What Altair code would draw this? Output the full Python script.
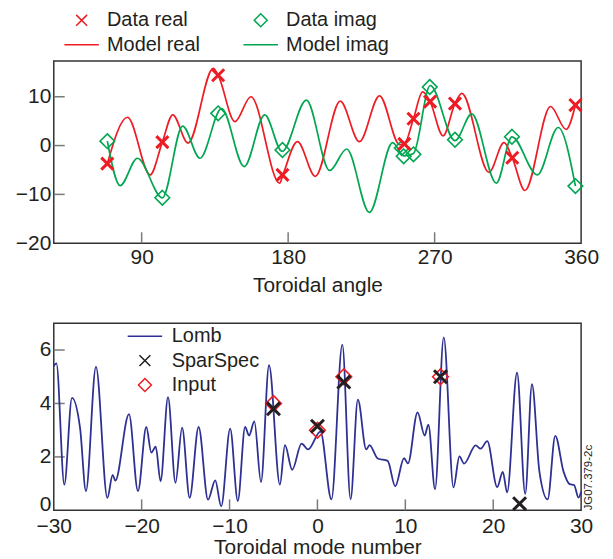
import altair as alt
import pandas as pd

# ---------------- top panel data ----------------
data_real_angle = [68.9, 102.7, 137.0, 176.5, 251.4, 257.0, 267.2, 282.5, 317.7, 356.5]
data_real_value = [-3.7, 0.7, 14.4, -6.0, 0.35, 5.5, 9.0, 8.6, -2.5, 8.3]
data_imag_angle = [68.9, 102.7, 137.0, 176.5, 249.8, 251.0, 257.0, 267.0, 282.5, 317.5, 356.5]
data_imag_value = [0.9, -10.7, 6.6, -0.9, -0.5, -2.2, -1.8, 12.0, 1.2, 1.8, -8.3]

model_real_angle = [68.9, 81.3, 95.2, 102.7, 109.1, 118.5, 134.0, 137.0, 147.3, 157.1, 174.8, 176.8,
                    185.7, 196.7, 212.0, 223.8, 236.1, 248.5, 251.4, 257.0, 262.6, 267.2, 275.2,
                    282.5, 286.7, 303.4, 312.6, 317.7, 325.5, 341.2, 350.8, 356.5]
model_real_value = [-3.7, 5.8, -6.0, 0.7, 6.3, 0.5, 15.8, 14.4, 4.9, 10.0, -7.7, -6.0,
                    0.8, -6.3, 9.1, 0.8, 10.2, 0.2, 0.35, 5.5, 11.0, 9.0, 2.0,
                    8.6, 10.7, -5.5, 0.6, -2.5, -9.2, 8.0, 3.3, 8.3]
model_imag_angle = [68.9, 76.8, 87.4, 102.7, 115.2, 125.8, 139.1, 153.0, 165.6, 176.3, 191.2,
                    205.5, 216.0, 229.9, 244.2, 251.0, 257.0, 267.3, 282.5, 292.8, 307.9, 317.5,
                    333.1, 345.9, 356.5]
model_imag_value = [0.9, -8.2, -2.6, -10.7, 4.0, -2.6, 7.6, -4.3, 6.3, -1.2, 9.3,
                    -5.1, -0.7, -13.7, 0.6, -2.1, -1.6, 12.3, 1.0, 6.5, -7.7, 1.8,
                    -6.0, 3.7, -8.3]

# ---------------- bottom panel data ----------------
lomb_n = [-30.0, -29.7, -28.8, -27.93, -27.0, -26.34, -25.2, -23.9, -23.3, -23.0, -21.44, -20.42,
          -19.47, -18.9, -18.4, -17.85, -17.0, -16.15, -15.4, -14.54, -13.52, -12.45, -11.63,
          -10.95, -9.93, -9.06, -8.23, -7.78, -7.18, -6.42, -5.51, -4.27, -3.7, -2.87, -1.81,
          -1.06, 0.34, 1.59, 2.83, 3.77, 4.6, 5.55, 5.92, 6.86, 7.99, 8.85, 9.85, 10.3, 11.39,
          12.2, 12.62, 13.38, 14.37, 15.48, 16.15, 16.68, 18.0, 18.57, 19.32, 20.45, 21.09,
          21.58, 22.71, 23.64, 24.41, 25.25, 26.19, 27.06, 28.0, 28.7, 29.2, 29.7, 30.0]
lomb_amp = [5.4, 5.5, 0.96, 4.21, 3.06, 0.72, 5.37, 0.47, 1.33, 1.11, 3.6, 0.72,
            3.12, 2.16, 2.38, 1.09, 4.24, 1.03, 3.1, 0.47, 3.12, 0.4, 1.12,
            0.15, 3.06, 0.35, 3.12, 2.8, 3.33, 1.06, 5.43, 0.96, 2.44, 1.52, 2.5,
            2.28, 2.95, 0.41, 6.2, 0.42, 4.14, 2.28, 2.44, 1.94, 1.85, 0.9, 1.95, 1.76, 3.67,
            2.8, 3.21, 0.79, 6.47, 0.86, 2.02, 1.75, 2.43, 2.31, 2.59, 0.87, 1.44,
            0.67, 5.15, 0.62, 4.72, 1.46, 0.41, 2.79, 1.45, 0.98, 0.95, 0.48, 0.7]
spar_n = [-5, 0, 3, 14, 23]
spar_amp = [3.8, 3.15, 4.8, 5.0, 0.25]
input_n = [-5, 0, 3, 14]
input_amp = [4.0, 3.0, 5.0, 5.0]

# ticks / labels
top_x_labels = [90, 180, 270, 360]
top_y_labels = [-20, -10, 0, 10]
top_x_inner = [90, 180, 270]
top_y_inner = [-10, 0, 10]
bot_x_labels = [-30, -20, -10, 0, 10, 20, 30]
bot_y_labels = [0, 2, 4, 6]
bot_x_inner = [-20, -10, 0, 10, 20]
bot_y_inner = [2, 4, 6]
credit = "JG07.379-2c"

RED = "#ED1C24"
GREEN = "#00A651"
NAVY = "#2E3192"
BLACK = "#231F20"
FONT = "Liberation Sans"
X_PATH = "M-0.79,-0.79L0.79,0.79M0.79,-0.79L-0.79,0.79"
D_PATH = "M0,-0.94L0.94,0L0,0.94L-0.94,0Z"
L_PATH = "M-2.5,0L2.5,0"

W = 530
H1 = 183
H2 = 188
TICK = 11
LSYM = 192

# ---------------- top panel ----------------
top_series = ["Data real", "Model real", "Data imag", "Model imag"]
top_leg = dict(title=None, orient="none", legendX=18, legendY=-51, columns=2,
               columnPadding=40, rowPadding=4.5, labelFontSize=20, labelOffset=15.5,
               symbolSize=LSYM, symbolStrokeWidth=1.5)
top_color = alt.Color("series:N", scale=alt.Scale(domain=top_series, range=[RED, RED, GREEN, GREEN]),
                      legend=alt.Legend(**top_leg))
top_shape = alt.Shape("series:N", scale=alt.Scale(domain=top_series,
                                                  range=[X_PATH, L_PATH, D_PATH, L_PATH]),
                      legend=alt.Legend(**top_leg))

tx_axis = alt.Axis(values=top_x_labels, title="Toroidal angle", labelFlush=False, labelOverlap=False,
                   titlePadding=8, labelPadding=3)
ty_axis = alt.Axis(values=top_y_labels, title=None, minExtent=45, maxExtent=45)
TX = alt.X("angle:Q", scale=alt.Scale(domain=[36, 360], nice=False, zero=False), axis=tx_axis)
TY = alt.Y("value:Q", scale=alt.Scale(domain=[-20, 17.3], nice=False, zero=False), axis=ty_axis)

model_df = pd.concat([
    pd.DataFrame({"angle": model_real_angle, "value": model_real_value, "series": "Model real"}),
    pd.DataFrame({"angle": model_imag_angle, "value": model_imag_value, "series": "Model imag"}),
])
real_df = pd.DataFrame({"angle": data_real_angle, "value": data_real_value, "series": "Data real"})
imag_df = pd.DataFrame({"angle": data_imag_angle, "value": data_imag_value, "series": "Data imag"})

lines_top = alt.Chart(model_df).mark_line(interpolate="monotone", strokeWidth=1.7).encode(
    x=TX, y=TY, color=top_color)
imag_pts = alt.Chart(imag_df).mark_point(filled=False, size=245, strokeWidth=1.6, opacity=1).encode(
    x=TX, y=TY, color=top_color, shape=top_shape)
real_pts = alt.Chart(real_df).mark_point(filled=False, size=235, strokeWidth=3, opacity=1).encode(
    x=TX, y=TY, color=top_color, shape=top_shape)
tx_ticks = alt.Chart(pd.DataFrame({"angle": top_x_inner})).mark_rule(color="#7a7a7a", strokeWidth=1.5).encode(
    x=TX, y=alt.value(H1), y2=alt.value(H1 - TICK))
ty_ticks = alt.Chart(pd.DataFrame({"value": top_y_inner})).mark_rule(color="#7a7a7a", strokeWidth=1.5).encode(
    y=TY, x=alt.value(0), x2=alt.value(TICK))

top = alt.layer(tx_ticks, ty_ticks, lines_top, imag_pts, real_pts).properties(width=W, height=H1)

# ---------------- bottom panel ----------------
bot_series = ["Lomb", "SparSpec", "Input"]
bot_leg = dict(title=None, orient="none", legendX=81.6, legendY=3, columns=1, rowPadding=4.5,
               labelFontSize=20, labelOffset=17, symbolSize=LSYM, symbolStrokeWidth=1.5)
bot_color = alt.Color("series:N", scale=alt.Scale(domain=bot_series, range=[NAVY, BLACK, RED]),
                      legend=alt.Legend(**bot_leg))
bot_shape = alt.Shape("series:N", scale=alt.Scale(domain=bot_series, range=[L_PATH, X_PATH, D_PATH]),
                      legend=alt.Legend(**bot_leg))
bx_axis = alt.Axis(values=bot_x_labels, title="Toroidal mode number", labelFlush=False,
                   labelOverlap=False, titlePadding=0, labelPadding=5.5)
by_axis = alt.Axis(values=bot_y_labels, title=None, minExtent=45, maxExtent=45,
                   labelFlush=1, labelFlushOffset=4.5)
BX = alt.X("n:Q", scale=alt.Scale(domain=[-30, 30], nice=False, zero=False), axis=bx_axis)
BY = alt.Y("amp:Q", scale=alt.Scale(domain=[0, 7], nice=False, zero=False), axis=by_axis)

lomb_df = pd.DataFrame({"n": lomb_n, "amp": lomb_amp, "series": "Lomb"})
spar_df = pd.DataFrame({"n": spar_n, "amp": spar_amp, "series": "SparSpec"})
input_df = pd.DataFrame({"n": input_n, "amp": input_amp, "series": "Input"})

lomb_line = alt.Chart(lomb_df).mark_line(interpolate="monotone", strokeWidth=1.8).encode(
    x=BX, y=BY, color=bot_color)
input_pts = alt.Chart(input_df).mark_point(filled=False, size=280, strokeWidth=1.6, opacity=1).encode(
    x=BX, y=BY, color=bot_color, shape=bot_shape)
spar_pts = alt.Chart(spar_df).mark_point(filled=False, size=270, strokeWidth=3, opacity=1).encode(
    x=BX, y=BY, color=bot_color, shape=bot_shape)
bx_ticks = alt.Chart(pd.DataFrame({"n": bot_x_inner})).mark_rule(color="#7a7a7a", strokeWidth=1.5).encode(
    x=BX, y=alt.value(H2), y2=alt.value(H2 - TICK))
by_ticks = alt.Chart(pd.DataFrame({"amp": bot_y_inner})).mark_rule(color="#7a7a7a", strokeWidth=1.5).encode(
    y=BY, x=alt.value(0), x2=alt.value(TICK))
credit_txt = alt.Chart(pd.DataFrame({"label": [credit]})).mark_text(
    angle=270, align="left", baseline="middle", fontSize=11.5, font=FONT, color=BLACK).encode(
    text="label:N", x=alt.value(W + 8), y=alt.value(H2))

bottom = alt.layer(bx_ticks, by_ticks, lomb_line, input_pts, spar_pts, credit_txt).properties(width=W, height=H2)

chart = alt.vconcat(top, bottom, spacing=25.5).resolve_scale(
    color="independent", shape="independent").properties(
    padding={"left": 0, "top": 0, "right": 5, "bottom": 0}
).configure_view(stroke="#333333", strokeWidth=1.5).configure_axis(
    grid=False, ticks=False, tickSize=0, domain=False,
    labelFont=FONT, labelFontSize=21, labelColor=BLACK,
    titleFont=FONT, titleFontSize=21, titleFontWeight="normal", titleColor=BLACK
).configure_axisY(labelPadding=3).configure_legend(
    labelFont=FONT, labelColor=BLACK, symbolOpacity=1, padding=0
)

chart.save("out.html", embed_options={"renderer": "svg", "actions": False})
